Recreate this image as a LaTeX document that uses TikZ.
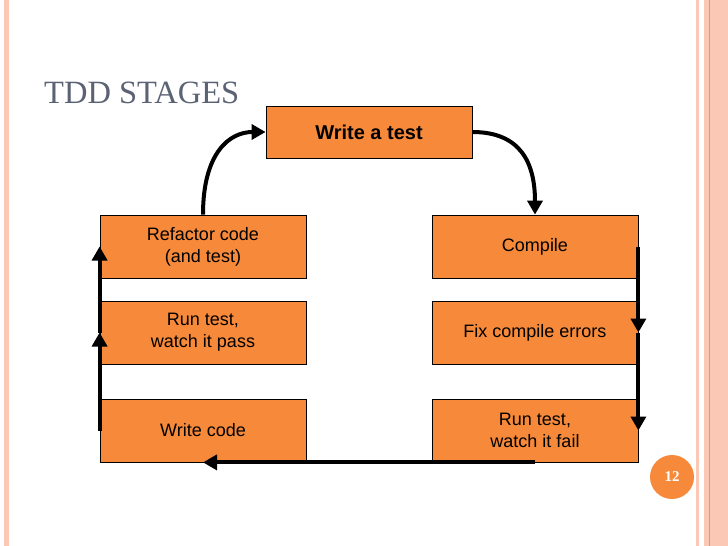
\documentclass[tikz,border=0pt]{standalone}
\usepackage{fontspec}
\setmainfont{Liberation Sans}
\newfontfamily\titlefont{Liberation Serif}
\usetikzlibrary{arrows.meta}
\definecolor{stageorange}{HTML}{F7893A}
\definecolor{framepink}{HTML}{FBC8B6}
\definecolor{frameline}{HTML}{F0945E}
\definecolor{titlegray}{HTML}{5B6273}
\begin{document}
\begin{tikzpicture}[x=1pt,y=-1pt]
\tikzstyle{stage}=[draw,rectangle,fill=stageorange,line width=0.8pt,minimum width=206pt,minimum height=63pt,align=center,inner sep=0pt,font=\fontsize{18}{22}\selectfont]
\tikzstyle{flow}=[line width=4pt,-{Triangle[length=14pt,width=15pt]}]
\useasboundingbox (0,0) rectangle (728,546);
\fill[framepink] (4,0) rectangle (9,546);
\fill[framepink] (696,0) rectangle (699,546);
\fill[framepink] (704,0) rectangle (728,546);
\draw[frameline] (709.5,0) -- (709.5,546);
\node[anchor=base west,inner sep=0pt,text=titlegray,font=\titlefont\fontsize{32.5}{32.5}\selectfont](title) at (44,103) {TDD STAGES};
\node[stage,minimum height=52pt,font=\bfseries\fontsize{20}{24}\selectfont](test) at (369,132) {Write a test};
\node[stage](refactor) at (203,246.5) {Refactor code\\(and test)};
\node[stage](pass) at (203,332.5) {Run test,\\watch it pass};
\node[stage](code) at (203,430.5) {Write code};
\node[stage](compile) at (535,246.5) {Compile};
\node[stage](fix) at (535,332.5) {Fix compile errors};
\node[stage](fail) at (535,430.5) {Run test,\\watch it fail};
\node[circle,fill=stageorange,minimum size=44pt,text=white,font=\titlefont\bfseries\fontsize{15}{15}\selectfont](page) at (672,477) {12};
\draw[flow] (refactor.north) .. controls +(0,-62) and +(-36,0) .. (test.west);
\draw[flow] (test.east) .. controls +(48,0) and +(0,-52) .. (compile.north);
\draw[flow] (compile.east) -- (fix.east);
\draw[flow] (fix.east) -- (fail.east);
\draw[flow] (fail.south) -- (code.south);
\draw[flow] (code.west) -- (pass.west);
\draw[flow] (pass.west) -- (refactor.west);
\end{tikzpicture}
\end{document}
